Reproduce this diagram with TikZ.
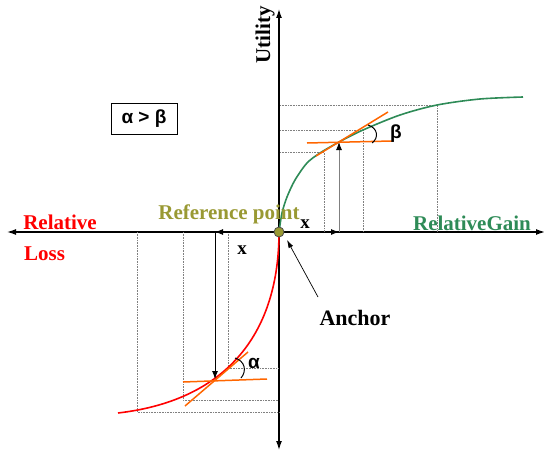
\documentclass[tikz,border=0pt]{standalone}
\usepackage{fontspec}
\setmainfont{Liberation Serif}
\newfontfamily\greekfont{Liberation Sans}
\usetikzlibrary{arrows.meta,positioning}
\definecolor{refolive}{RGB}{153,153,51}
\definecolor{gaingreen}{RGB}{46,139,87}
\definecolor{tangorange}{RGB}{255,102,0}

\begin{document}
\begin{tikzpicture}[
  x=1pt, y=-1pt,
  axis/.style={line width=1.3pt, {Latex[length=9pt,width=6pt]}-{Latex[length=9pt,width=6pt]}},
  moveline/.style={line width=0.9pt, -{Latex[length=8pt,width=6pt]}},
  guide/.style={gray, densely dotted, line width=0.6pt},
  tangent/.style={tangorange, line width=1.5pt},
  lbl/.style={font=\fontsize{21}{24}\selectfont\bfseries, inner sep=0pt},
  greek/.style={font=\greekfont\fontsize{19}{24}\selectfont\bfseries, inner sep=0pt}
]
\useasboundingbox (0,0) rectangle (544,452);

% axes
\coordinate (O) at (279,232);
\coordinate (xl) at (7,232);
\coordinate (xr) at (545,232);
\coordinate (yt) at (279,9);
\coordinate (yb) at (279,450);
\draw[axis] (xl) -- (xr);
\draw[axis] (yb) -- (yt);

% dotted guides, gain side
\draw[guide] (280,105) -- (437,105) -- (437,232);
\draw[guide] (280,130) -- (363,130) -- (363,232);
\draw[guide] (280,152) -- (324,152) -- (324,232);

% dotted guides, loss side
\draw[guide] (137,232) -- (137,412) -- (279,412);
\draw[guide] (183,232) -- (183,400) -- (279,400);
\draw[guide] (228,232) -- (228,368) -- (279,368);

% value curves
\draw[gaingreen, line width=1.6pt] plot[smooth] coordinates {
  (279,232) (282,213) (287,197) (295,180) (307,163) (320,153) (339,142)
  (363,130) (400,115) (437,105) (480,99) (523,97)};
\draw[red, line width=1.6pt] (O) .. controls (279,330) and (230,400) .. (118,413);

% gain move
\coordinate (Gx) at (339,232);
\coordinate (G) at (339,142);
\draw[moveline] (O) -- (Gx);
\draw[moveline, draw=gray, -{Latex[length=8pt,width=6pt,color=black]}] (Gx) -- (G);

% loss move
\coordinate (Lx) at (215,232);
\coordinate (L) at (215,379);
\draw[moveline] (O) -- (Lx);
\draw[moveline] (Lx) -- (L);

% tangents
\draw[tangent] (316,156) -- (388,112);
\draw[tangent] (307,143) -- (392,141);
\draw[tangent] (185,406) -- (248,352);
\draw[tangent] (183,382) -- (267,379);

% angles
\draw[line width=1pt] (368,125) .. controls (378,128) and (379,138) .. (372,143);
\draw[line width=1pt] (235,358) .. controls (245,361) and (247,371) .. (241,378);
\node[greek] (beta) at (396,134) {β};
\node[greek] (alpha) at (254,363) {α};

% reference point
\node[circle, fill=refolive, draw=black!70, line width=0.8pt,
  minimum size=10pt, inner sep=0pt] (ref) at (O) {};

% labels
\node[lbl, text=red] (rel) at (60,222) {Relative};
\node[lbl, text=red, anchor=west] (loss) at (24,254) {Loss};
\node[lbl, text=refolive] (reftxt) at (229,214) {Reference point};
\node[lbl, text=gaingreen] (gain) at (472,223) {RelativeGain};
\node[lbl, rotate=90] (util) at (265,35) {Utility};
\node[lbl, font=\fontsize{19}{22}\selectfont\bfseries] (xg) at (305,224) {x};
\node[lbl, font=\fontsize{19}{22}\selectfont\bfseries] (xl2) at (242,250) {x};
\node[lbl, font=\fontsize{22}{26}\selectfont\bfseries] (anchor) at (355,318) {Anchor};

% anchor pointer
\coordinate (atail) at (318,297);
\coordinate (atip) at (287,240);
\draw[line width=0.7pt, -{Latex[length=8pt,width=5pt]}] (atail) -- (atip);

% comparison box
\node[draw, line width=0.6pt, minimum width=66pt, minimum height=31pt,
  greek, inner sep=0pt] (cmp) at (144,119) {α > β};

\end{tikzpicture}
\end{document}
